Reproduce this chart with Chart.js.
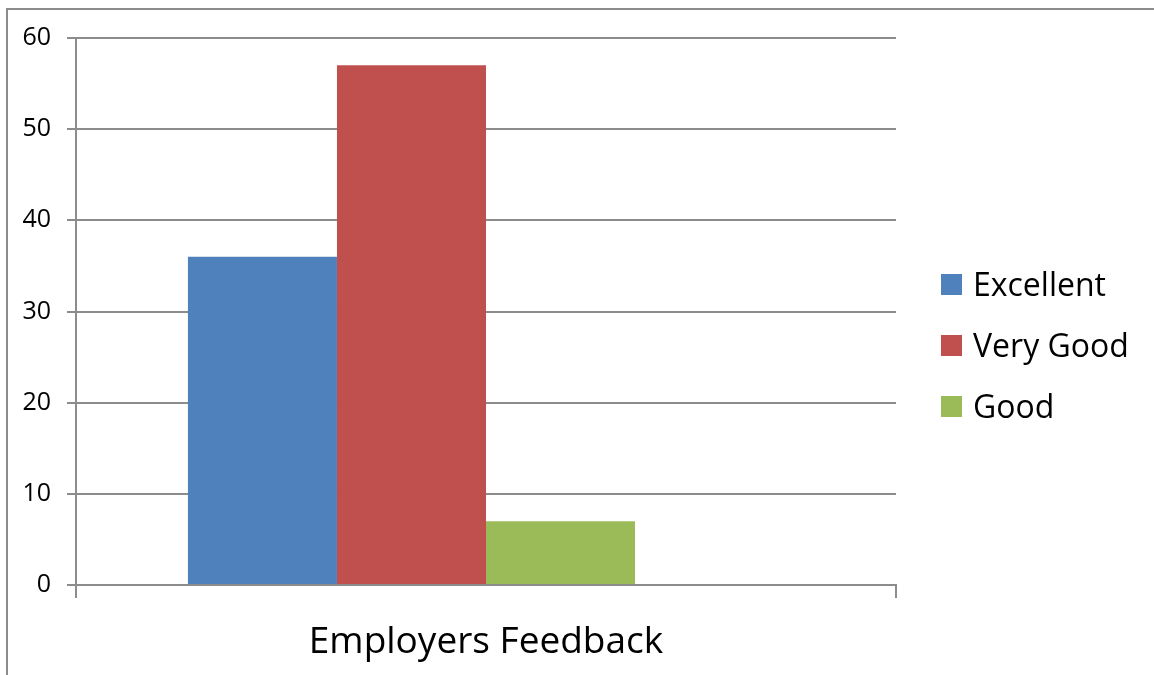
<!DOCTYPE html>
<html>
<head>
<meta charset="utf-8">
<script src="https://cdn.jsdelivr.net/npm/chart.js@4"></script>
<style>
  html, body { margin: 0; padding: 0; background: #fff; }
  #wrap { position: relative; width: 1154px; height: 675px; overflow: hidden; }
  #frame { position: absolute; left: 6px; top: 8px; right: -10px; bottom: -10px;
           border-left: 2px solid #8c8c8c; border-top: 2px solid #8c8c8c; }
  #legend { position: absolute; left: 941px; top: 264px; font-family: "Open Sans", sans-serif;
            font-size: 32px; color: #000; }
  .item { height: 61px; display: flex; align-items: flex-start; }
  .box { width: 21px; height: 21px; margin-top: 10px; margin-right: 11px; }
  .txt { line-height: 40px; }
</style>
</head>
<body>
<div id="wrap">
  <div id="frame"></div>
  <canvas id="chart" width="1154" height="675"></canvas>
  <div id="legend"></div>
</div>
<script>
const categories = ["Employers Feedback"];
const seriesNames = ["Excellent", "Very Good", "Good", ""];
const seriesValues = [[36], [57], [7], [null]];
const seriesColors = ["#4F81BD", "#C0504D", "#9BBB59", "#FFFFFF"];
const yTicks = [0, 10, 20, 30, 40, 50, 60];

const gridColor = "#8c8c8c";

let datasets = seriesNames.map(function (name, i) {
    return {
        label: name,
        data: seriesValues[i],
        backgroundColor: seriesColors[i],
        borderWidth: 0,
        categoryPercentage: 0.727,
        barPercentage: 1
    };
});

new Chart(document.getElementById("chart"), {
    type: "bar",
    data: { labels: categories, datasets: datasets },
    options: {
        responsive: false,
        animation: false,
        layout: { padding: { left: 0, right: 258, top: 38, bottom: 0 } },
        plugins: {
            legend: { display: false },
            tooltip: { enabled: false }
        },
        scales: {
            x: {
                offset: true,
                grid: {
                    offset: true,
                    drawOnChartArea: false,
                    drawTicks: true,
                    tickLength: 13,
                    color: gridColor,
                    lineWidth: 2
                },
                border: { display: true, color: gridColor, width: 2 },
                ticks: {
                    color: "#000",
                    padding: 22,
                    font: { family: "Open Sans", size: 37 }
                },
                afterFit: function (scale) { scale.height = 90; }
            },
            y: {
                min: 0,
                max: 60,
                afterBuildTicks: function (scale) {
                    scale.ticks = yTicks.map(v => ({ value: v }));
                },
                grid: {
                    color: gridColor,
                    lineWidth: 2,
                    tickLength: 9
                },
                border: { display: true, color: gridColor, width: 2 },
                ticks: {
                    color: "#000",
                    padding: 16,
                    font: { family: "Open Sans", size: 25 }
                },
                afterFit: function (scale) { scale.width = 76; }
            }
        }
    }
});

let legend = document.getElementById("legend");
seriesNames.forEach(function (name, i) {
    if (!name) return;
    let item = document.createElement("div");
    item.className = "item";
    item.innerHTML = '<div class="box" style="background:' + seriesColors[i] + '"></div><div class="txt">' + name + '</div>';
    legend.appendChild(item);
});
</script>
</body>
</html>
